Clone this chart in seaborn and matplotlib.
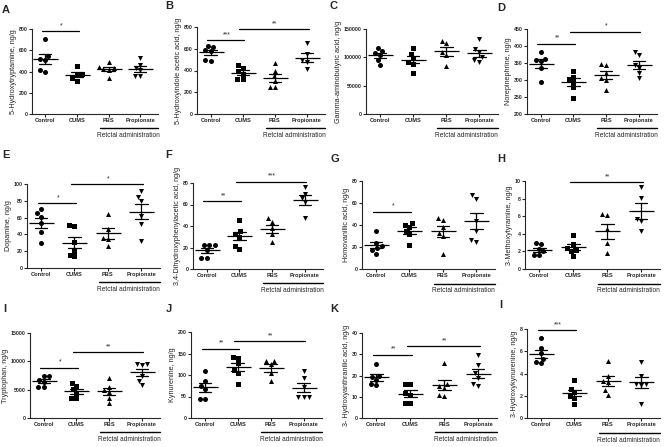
import numpy as np
import pandas as pd
import matplotlib
matplotlib.use("Agg")
import matplotlib.pyplot as plt
import seaborn as sns
from matplotlib.transforms import blended_transform_factory

groups = ["Control", "CUMS", "PBS", "Propionate"]
markers = ["o", "s", "^", "v"]

# values per panel: [Control, CUMS, PBS, Propionate]
serotonin = [[710, 545, 520, 505, 415, 400], [455, 375, 370, 335, 315],
             [490, 445, 430, 420, 415, 340], [525, 465, 430, 410, 360, 360]]
hiaa = [[625, 620, 585, 580, 490, 495], [450, 425, 395, 370, 325, 320],
        [465, 400, 345, 300, 245, 245], [650, 550, 500, 480, 410]]
gaba = [[117000, 112000, 108000, 104000, 95000, 87000],
        [117000, 106000, 98000, 92000, 88000, 73000],
        [129000, 125000, 110000, 105000, 85000],
        [132000, 114000, 110000, 100000, 95000, 92000]]
norepinephrine = [[383, 363, 360, 355, 335, 295], [327, 310, 303, 295, 280, 247],
                  [348, 345, 320, 305, 300, 270], [383, 373, 345, 335, 320, 305]]
dopamine = [[70, 65, 61, 54, 43, 30], [51, 50, 31, 20, 16, 14],
            [64, 47, 36, 35, 26], [92, 85, 80, 62, 52, 32]]
dopac = [[22, 22, 22, 18, 10, 10], [46, 35, 33, 30, 21, 19],
         [47, 44, 38, 33, 25], [76, 70, 66, 62, 47]]
hva = [[35, 24, 21, 19, 17, 14], [42, 40, 38, 35, 32, 22],
       [46, 45, 38, 33, 30, 14], [67, 64, 44, 35, 26, 25]]
methoxytyramine = [[2.9, 2.8, 2.3, 2.0, 1.6, 1.6], [3.9, 2.8, 2.4, 2.2, 2.0, 1.5],
                   [6.2, 6.1, 4.5, 2.9, 1.8], [9.3, 8.1, 5.7, 5.4, 4.3]]
tryptophan = [[7500, 7400, 6700, 6400, 5400, 5400], [6100, 5700, 5100, 4500, 3600, 3500],
              [7000, 5500, 4900, 4600, 3500, 2600], [9600, 9500, 9300, 7500, 6600, 5900]]
kynurenine = [[110, 85, 75, 68, 45, 45], [143, 140, 128, 112, 105, 80],
              [133, 132, 125, 105, 85], [110, 93, 72, 50, 48, 48]]
hydroxyanthranilic = [[25.5, 20, 19.5, 18, 16, 15.5], [16, 16, 12, 11, 7, 7],
                      [26, 16, 15, 14, 11, 10.5], [29.5, 25, 21, 19, 16, 15]]
hydroxykynurenine = [[7.2, 6.3, 5.8, 5.3, 5.0, 4.9], [3.4, 2.6, 2.3, 2.0, 1.8, 1.3],
                     [5.1, 3.8, 3.3, 3.2, 2.5, 2.1], [5.0, 3.8, 3.1, 3.1, 3.0, 1.25]]

panels = [serotonin, hiaa, gaba, norepinephrine, dopamine, dopac, hva,
          methoxytyramine, tryptophan, kynurenine, hydroxyanthranilic, hydroxykynurenine]
letters = ["A", "B", "C", "D", "E", "F", "G", "H", "I", "J", "K", "I"]
ylabels = ["5-Hydroxytryptamine, ng/g", "5-Hydroxyindole acetic acid, ng/g",
           "Gamma-aminobutyric acid, ng/g", "Norepinephrine, ng/g",
           "Dopamine, ng/g", "3,4-Dihydroxyphenylacetic acid, ng/g",
           "Homovanillic acid, ng/g", "3-Methoxytyramine, ng/g",
           "Tryptophan, ng/g", "Kynurenine, ng/g",
           "3- Hydroxyanthranilic acid, ng/g", "3-Hydroxykynurenine, ng/g"]
yticks = [[0, 200, 400, 600, 800], [0, 200, 400, 600, 800], [0, 50000, 100000, 150000],
          [200, 250, 300, 350, 400, 450], [0, 20, 40, 60, 80, 100], [0, 20, 40, 60, 80],
          [0, 20, 40, 60, 80], [0, 2, 4, 6, 8, 10], [0, 5000, 10000, 15000],
          [0, 50, 100, 150, 200], [0, 10, 20, 30, 40], [0, 2, 4, 6, 8]]
sigs = [[(0, 1, 780, "*")],
        [(0, 1, 680, "***"), (1, 3, 780, "**")],
        [],
        [(0, 1, 407, "**"), (1, 3, 442, "*")],
        [(0, 1, 77, "*"), (1, 3, 100, "*")],
        [(0, 1, 63, "**"), (1, 3, 81, "***")],
        [(0, 1, 52, "*")],
        [(1, 3, 9.85, "**")],
        [(0, 1, 8900, "*"), (1, 3, 11600, "**")],
        [(0, 1, 161, "**"), (1, 3, 178, "**")],
        [(0, 1, 29.8, "**"), (1, 3, 33.7, "**")],
        [(0, 1, 7.9, "***")]]

# layout (pixels): left, right, top, bottom of each axes
boxes = [(32, 158, 29, 114), (197, 325, 27, 114), (366, 498, 29, 114), (527, 657, 29, 114),
         (27, 160, 184, 268), (193, 323, 183, 269), (362, 495, 181, 269), (525, 660, 181, 269),
         (30, 160, 333, 418), (191, 322, 332, 418), (362, 497, 333, 418), (527, 660, 329, 418)]
letter_pos = [(6, 10), (169, 6), (334, 6), (501, 8), (6, 155), (169, 155), (335, 159), (501, 159),
              (5, 309), (169, 309), (334, 309), (501, 305)]

sns.set_style("ticks")
plt.rcParams["font.family"] = ["Liberation Sans", "DejaVu Sans"]

W, H = 669, 447
fig = plt.figure(figsize=(W / 100, H / 100), dpi=100)

for k in range(12):
    l, r, t, b = boxes[k]
    ax = fig.add_axes([l / W, 1 - b / H, (r - l) / W, (b - t) / H])
    vals = panels[k]
    df = pd.DataFrame({"group": np.repeat(groups, [len(v) for v in vals]),
                       "value": np.concatenate([np.asarray(v, float) for v in vals])})
    for g, m in zip(groups, markers):
        sns.swarmplot(data=df[df.group == g], x="group", y="value", order=groups,
                      marker=m, color="black", size=3.6, ax=ax, zorder=2)
    sns.pointplot(data=df, x="group", y="value", order=groups, errorbar="se",
                  capsize=0.38, color="black", linestyle="none", markers="_",
                  markersize=18, markeredgewidth=0.9,
                  err_kws={"linewidth": 0.9}, ax=ax)
    ax.set_xlim(-0.42, 3.56)
    ax.set_ylim(yticks[k][0], yticks[k][-1])
    ax.set_yticks(yticks[k])
    ax.set_yticklabels([str(v) for v in yticks[k]], fontsize=3.7, fontweight="bold")
    ax.set_xticks(range(4))
    ax.set_xticklabels(groups, fontsize=4.1, fontweight="bold")
    ax.set_xlabel("")
    ax.set_ylabel(ylabels[k], fontsize=5.2, labelpad=0.8)
    for s in ["top", "right"]:
        ax.spines[s].set_visible(False)
    for s in ["left", "bottom"]:
        ax.spines[s].set_linewidth(0.8)
    ax.tick_params(length=2, width=0.8, pad=1.2)

    for (i, j, y, lab) in sigs[k]:
        ax.plot([i - 0.1, j + 0.05], [y, y], color="black", lw=0.9, clip_on=False)
        ax.annotate(lab, xy=((i + j) / 2, y), xytext=(0, 1.5), textcoords="offset points",
                    ha="center", va="bottom", fontsize=5, annotation_clip=False)

    trans = blended_transform_factory(ax.transData, ax.transAxes)
    ax.plot([1.72, 3.55], [-0.165, -0.165], transform=trans, clip_on=False,
            color="black", lw=1)
    ax.text(2.62, -0.21, "Retctal administration", transform=trans,
            ha="center", va="top", fontsize=4.7)

    lx, ly = letter_pos[k]
    fig.text(lx / W, 1 - ly / H, letters[k], fontsize=8, fontweight="bold",
             ha="center", va="center")

fig.savefig("out.png", dpi=100)
